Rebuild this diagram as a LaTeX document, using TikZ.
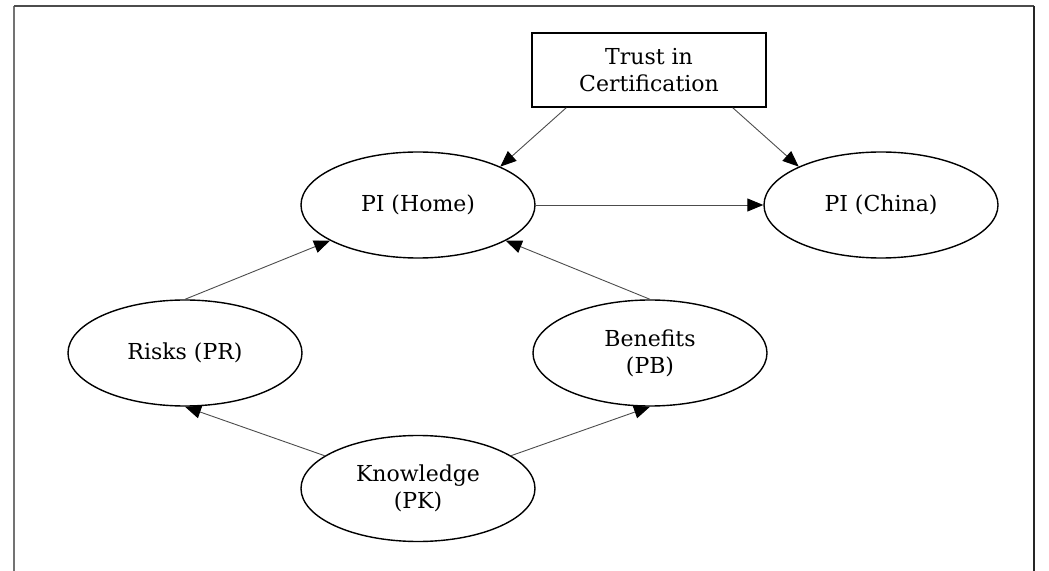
\documentclass[tikz,border=0pt]{standalone}
\usepackage{fontspec}
\setmainfont{DejaVu Serif}
\usetikzlibrary{shapes.geometric,arrows.meta}

\begin{document}
\begin{tikzpicture}[x=0.5pt,y=-0.5pt,
		construct/.style={draw,ellipse,line width=0.7pt,inner sep=0pt,minimum width=117pt,minimum height=53pt,align=center,font=\fontsize{11}{13.5}\selectfont},
		factor/.style={draw,rectangle,line width=0.7pt,inner sep=0pt,minimum width=117pt,minimum height=37pt,align=center,font=\fontsize{11}{13.5}\selectfont},
		path/.style={draw=black!70,line width=0.45pt,-{Triangle[length=8pt,width=6.5pt,color=black]}}]
		\useasboundingbox (0,0) rectangle (1049,571);
		\draw[black!55,line width=1pt] (14,571) -- (14,6);
		\draw[black!70,line width=1pt] (14,6) -- (1034,6);
		\draw[black!85,line width=1.2pt] (1034,6) -- (1034,571);
		\node[factor](trust) at (649,70) {Trust in\\Certification};
		\node[construct](home) at (418,205) {PI (Home)};
		\node[construct](china) at (881,205) {PI (China)};
		\node[construct](risks) at (185,353) {Risks (PR)};
		\node[construct](benefits) at (650,353) {Benefits\\(PB)};
		\node[construct](knowledge) at (418,488.5) {Knowledge\\(PK)};
		\draw[path] ([xshift=17.5pt]trust.south west) -- (home.25);
		\draw[path] ([xshift=-17pt]trust.south east) -- (china.155);
		\draw[path] (home) -- (china);
		\draw[path] (risks.north) -- (home);
		\draw[path] (benefits.north) -- (home);
		\draw[path] (knowledge) -- (risks.south);
		\draw[path] (knowledge) -- (benefits.south);
	\end{tikzpicture}
\end{document}
